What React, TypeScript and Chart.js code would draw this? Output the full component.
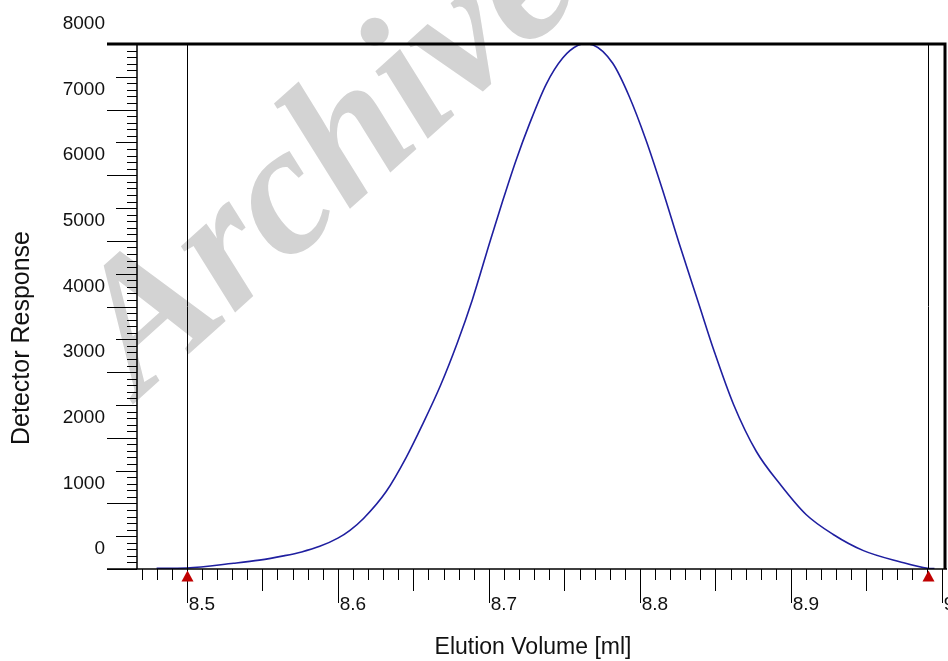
import React, { useEffect, useRef } from 'react';
import { Chart, registerables } from 'chart.js';

Chart.register(...registerables);

// ---- data ----
const elutionVolume = [
  8.48, 8.5, 8.531, 8.548, 8.564, 8.576, 8.588, 8.6, 8.608, 8.617, 8.632, 8.645, 8.656,
  8.668, 8.679, 8.689, 8.701, 8.709, 8.718, 8.727, 8.738, 8.749, 8.759, 8.764, 8.769,
  8.782, 8.793, 8.804, 8.815, 8.826, 8.839, 8.849, 8.862, 8.877, 8.893, 8.91, 8.928,
  8.948, 8.972, 8.9905, 8.995,
];
const detectorResponse = [
  10, 15, 87, 135, 200, 260, 345, 470, 590, 770, 1180, 1690, 2200,
  2800, 3440, 4100, 5010, 5600, 6230, 6790, 7390, 7790, 7980, 8000, 7985,
  7706, 7197, 6537, 5775, 4960, 4038, 3330, 2507, 1794, 1286, 830, 526,
  280, 111, 11, 6,
];
// baseline markers (start / end of the integration range)
const markerVolume = [8.5, 8.9905];

const xMin = 8.467;
const xMax = 9.002;
const yMin = 0;
const yMax = 8000;

const xTitle = 'Elution Volume [ml]';
const yTitle = 'Detector Response';
const watermarkText = 'Archive';

const SANS = '"Liberation Sans", Arial, sans-serif';

const framePlugin = {
  id: 'framePlugin',
  beforeDraw(chart: any) {
    const ctx = chart.ctx;
    ctx.save();
    ctx.translate(140, 398);
    ctx.rotate((-42 * Math.PI) / 180);
    ctx.font = 'italic bold 186px "Liberation Serif", "DejaVu Serif", serif';
    ctx.fillStyle = '#d3d3d3';
    ctx.textBaseline = 'alphabetic';
    ctx.textAlign = 'left';
    ctx.fillText(watermarkText, 0, 0);
    ctx.restore();
  },
  afterDatasetsDraw(chart: any) {
    const ctx = chart.ctx;
    const xs = chart.scales.x;
    const ys = chart.scales.y;
    const { left, right, top, bottom } = chart.chartArea;
    ctx.save();
    ctx.strokeStyle = '#000';
    ctx.lineCap = 'butt';

    // marker vertical lines
    ctx.lineWidth = 1;
    markerVolume.forEach((v) => {
      const px = Math.round(xs.getPixelForValue(v)) + 0.5;
      ctx.beginPath();
      ctx.moveTo(px, top);
      ctx.lineTo(px, bottom);
      ctx.stroke();
    });

    // y ticks
    for (let v = yMin; v <= yMax; v += 100) {
      const py = Math.round(ys.getPixelForValue(v)) + 0.5;
      const len = v % 1000 === 0 ? 30 : v % 500 === 0 ? 21 : 10;
      ctx.beginPath();
      ctx.moveTo(left - len, py);
      ctx.lineTo(left, py);
      ctx.stroke();
    }
    // x ticks
    for (let i = 847; i <= 900; i++) {
      const px = Math.round(xs.getPixelForValue(i / 100)) + 0.5;
      const len = i % 10 === 0 ? 34 : i % 5 === 0 ? 22 : 11;
      ctx.beginPath();
      ctx.moveTo(px, bottom);
      ctx.lineTo(px, bottom + len);
      ctx.stroke();
    }

    // axis lines
    ctx.lineWidth = 1.5;
    ctx.beginPath();
    ctx.moveTo(left, top);
    ctx.lineTo(left, bottom);
    ctx.moveTo(left - 30, bottom);
    ctx.lineTo(right + 2, bottom);
    ctx.stroke();

    // top & right borders
    ctx.lineWidth = 3;
    ctx.beginPath();
    ctx.moveTo(left - 30, top);
    ctx.lineTo(right + 1.5, top);
    ctx.moveTo(right, top);
    ctx.lineTo(right, bottom);
    ctx.stroke();

    // red baseline markers (triangles under the axis)
    ctx.fillStyle = '#c00000';
    markerVolume.forEach((v) => {
      const px = Math.round(xs.getPixelForValue(v)) + 0.5;
      ctx.beginPath();
      ctx.moveTo(px, bottom + 1.5);
      ctx.lineTo(px + 6, bottom + 12.5);
      ctx.lineTo(px - 6, bottom + 12.5);
      ctx.closePath();
      ctx.fill();
    });
    ctx.restore();
  },
  afterDraw(chart: any) {
    const ctx = chart.ctx;
    ctx.save();
    ctx.fillStyle = '#111';
    ctx.textAlign = 'center';
    ctx.textBaseline = 'middle';
    ctx.font = `23px ${SANS}`;
    ctx.fillText(xTitle, 533, 648);
    ctx.translate(22, 338);
    ctx.rotate(-Math.PI / 2);
    ctx.font = `25px ${SANS}`;
    ctx.fillText(yTitle, 0, 0);
    ctx.restore();
  },
};

export default function App() {
  const canvasRef = useRef<HTMLCanvasElement | null>(null);

  useEffect(() => {
    const canvas = canvasRef.current;
    if (!canvas) return;
    const curve = elutionVolume.map((x, i) => ({ x, y: detectorResponse[i] }));

    const chart = new Chart(canvas, {
      type: 'line',
      data: {
        datasets: [
          {
            data: curve,
            borderColor: '#1f1fa0',
            borderWidth: 1.6,
            pointRadius: 0,
            fill: false,
            cubicInterpolationMode: 'monotone',
          } as any,
        ],
      },
      options: {
        responsive: false,
        animation: false,
        events: [],
        layout: { padding: { left: 0, top: 44, right: 55, bottom: 0 } },
        plugins: {
          legend: { display: false },
          tooltip: { enabled: false },
        },
        scales: {
          x: {
            type: 'linear',
            min: xMin,
            max: xMax,
            grid: { display: false, drawTicks: false },
            border: { display: false },
            afterFit: (s: any) => {
              s.height = 92;
            },
            ticks: {
              stepSize: 0.1,
              includeBounds: false,
              autoSkip: false,
              maxRotation: 0,
              padding: 24,
              labelOffset: 15,
              color: '#111',
              font: { family: SANS, size: 19 },
              callback: (v: any) => Number(v).toFixed(1),
            },
          },
          y: {
            type: 'linear',
            min: yMin,
            max: yMax,
            grid: { display: false, drawTicks: false },
            border: { display: false },
            afterFit: (s: any) => {
              s.width = 137;
            },
            ticks: {
              stepSize: 1000,
              includeBounds: false,
              padding: 32,
              labelOffset: -20,
              color: '#111',
              font: { family: SANS, size: 19 },
              callback: (v: any) => String(v),
            },
          },
        },
      },
      plugins: [framePlugin],
    });
    return () => chart.destroy();
  }, []);

  return (
    <div
      style={{
        position: 'fixed',
        left: 0,
        top: 0,
        width: 948,
        height: 661,
        overflow: 'hidden',
        background: '#fff',
      }}
    >
      <canvas ref={canvasRef} width={1000} height={661} style={{ display: 'block' }} />
    </div>
  );
}
